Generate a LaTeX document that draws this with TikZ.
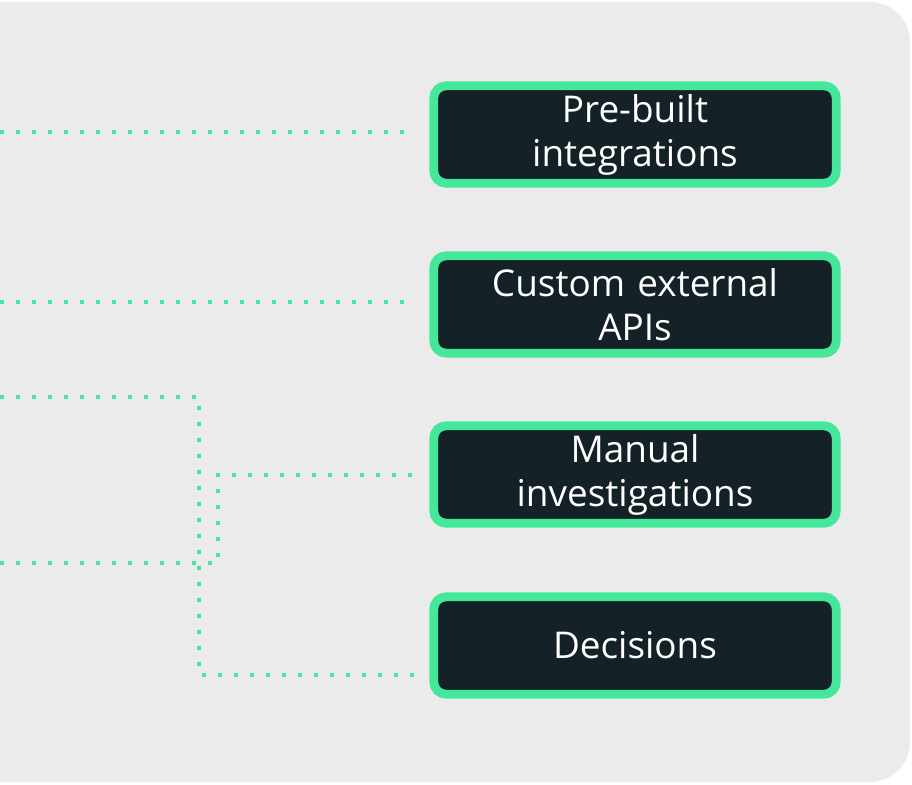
\documentclass[tikz,border=0pt]{standalone}
\usepackage{fontspec}
\setmainfont{Open Sans}
\definecolor{mint}{HTML}{45E89A}
\definecolor{panel}{HTML}{EBEBEB}
\definecolor{boxfill}{HTML}{142127}
\tikzset{
  tool/.style={draw=mint, line width=5pt, fill=boxfill, rounded corners=7pt,
    minimum width=8.05cm, minimum height=1.95cm, text width=7.6cm, align=center,
    text=white, font=\fontsize{21}{25}\selectfont},
  link/.style={mint, line width=2.3pt, dash pattern=on 0.08cm off 0.24cm,
    shorten >=0.3cm}
}
\begin{document}
\begin{tikzpicture}[x=0.02cm,y=-0.02cm]
\useasboundingbox (0,0) rectangle (912,784);
\fill[panel, rounded corners=0.8cm] (-60,2) rectangle (910,782);
% tools on the right
\node[tool] (prebuilt) at (635,134.5) {Pre-built\\integrations};
\node[tool] (custom) at (635,304.5) {Custom external\\APIs};
\node[tool] (manual) at (635,474.5) {Manual\\investigations};
\node[tool] (decide) at (635,645.5) {Decisions};
% incoming dotted links
\coordinate (in1) at (0,132);
\coordinate (in2) at (0,302);
\coordinate (in3) at (0,397);
\coordinate (in4) at (0,563);
\draw[link] (in1) -- (prebuilt.west |- in1);
\draw[link] (in2) -- (custom.west |- in2);
\draw[link] (in3) -| (199,675) -- (decide.west |- 0,675);
\draw[link] (in4) -| (218,475) -- (manual.west |- 0,475);
\end{tikzpicture}
\end{document}
